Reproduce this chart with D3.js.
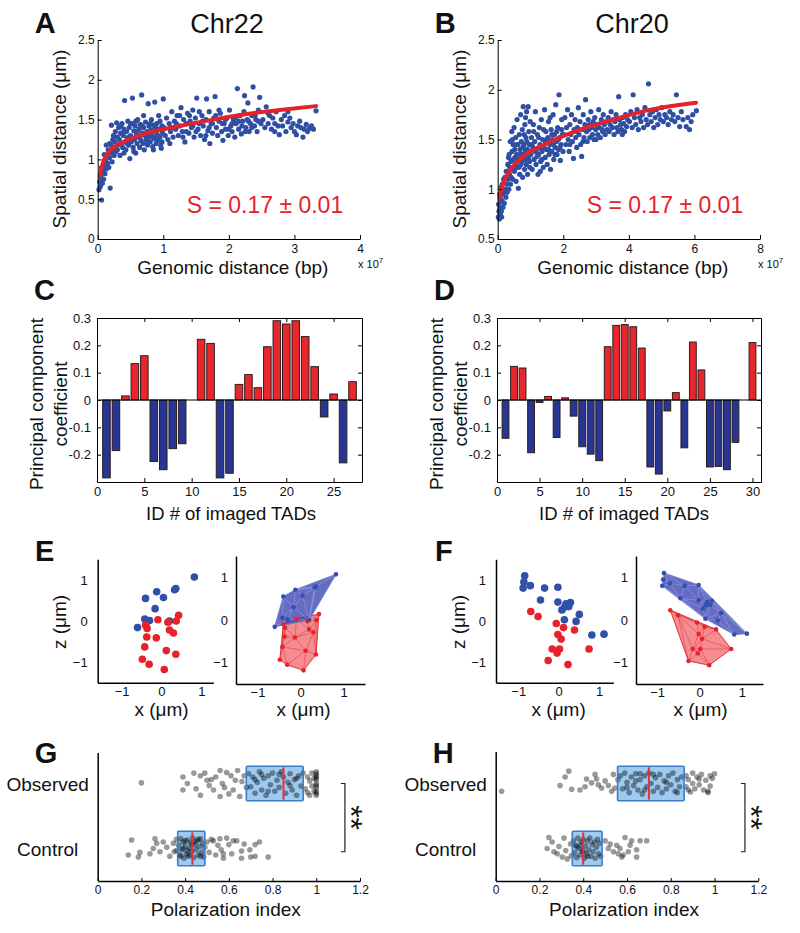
<!DOCTYPE html>
<html><head><meta charset="utf-8">
<script src="https://cdn.jsdelivr.net/npm/d3@7"></script>
<style>
body{margin:0;background:#fff}
svg{display:block}
</style></head><body>
<svg id="fig" width="800" height="933"></svg>
<script>
// ---------------- DATA ----------------
// Panel A: Chr22 spatial vs genomic distance (x in units of 1e7 bp, y in µm)
const chr22Scatter = [[0.02,0.62],[0.04,0.66],[0.06,0.49],[0.03,0.72],[0.05,0.78],[0.07,0.7],[0.08,0.85],[0.09,0.75],[0.1,0.92],[0.11,0.82],[0.12,0.98],[0.13,0.88],[0.14,1.05],[0.15,0.95],[0.16,1.12],[0.17,0.9],[0.18,1.02],[0.19,0.64],[0.2,1.18],[0.21,1.08],[0.22,0.97],[0.23,1.25],[0.24,1.13],[0.25,1.05],[0.1,1.06],[0.13,1.18],[0.06,0.9],[0.18,1.2],[0.21,1.43],[0.24,1.3],
[0.26,1.22],[0.27,1.35],[0.28,1.1],[0.29,1.46],[0.3,1.28],[0.31,1.18],[0.32,1.4],[0.33,1.25],[0.34,1.05],[0.35,1.33],[0.36,1.2],[0.37,1.45],[0.38,1.15],[0.39,1.3],[0.4,1.38],[0.41,1.74],[0.42,1.22],[0.43,1.12],[0.44,1.35],[0.45,1.27],[0.46,1.48],[0.47,1.18],[0.48,1.4],[0.49,1.01],[0.5,1.3],[0.51,1.22],[0.52,1.45],[0.53,1.77],[0.54,1.15],[0.55,1.36],[0.56,1.25],[0.57,1.42],[0.58,1.08],[0.59,1.32],[0.6,1.2],[0.61,1.5],[0.62,1.28],[0.63,1.38],[0.64,1.15],[0.65,1.44],[0.66,1.24],[0.67,1.81],[0.68,1.33],[0.69,1.2],[0.7,1.4],[0.71,1.12],[0.72,1.3],[0.73,1.47],[0.74,1.25],[0.75,1.35],[0.76,1.18],[0.77,1.7],[0.78,1.42],[0.79,1.28],[0.8,1.22],[0.81,1.37],[0.82,1.5],[0.83,1.3],[0.84,1.16],[0.85,1.43],[0.86,1.26],[0.87,1.72],[0.88,1.35],[0.89,1.2],[0.9,1.45],[0.91,1.31],[0.92,1.24],[0.93,1.55],[0.94,1.38],[0.95,1.28],[0.96,1.18],[0.97,1.14],[0.98,1.42],[0.99,1.33],[1.0,1.76],[0.3,1.12],[0.35,1.42],[0.4,1.08],[0.45,1.2],[0.5,1.45],[0.55,1.1],[0.6,1.35],[0.65,1.3],[0.7,1.55],[0.75,1.22],[0.8,1.45],[0.85,1.12],[0.9,1.28],[0.95,1.48],[0.38,1.32],[0.48,1.28],[0.58,1.48],[0.68,1.42],[0.78,1.32],[0.88,1.4],[0.98,1.22],
[1.01,1.4],[1.03,1.3],[1.05,1.52],[1.07,1.25],[1.09,1.45],[1.11,1.35],[1.13,1.6],[1.15,1.28],[1.17,1.48],[1.19,1.38],[1.21,1.55],[1.23,1.3],[1.25,1.42],[1.27,1.65],[1.29,1.35],[1.31,1.5],[1.33,1.22],[1.35,1.45],[1.37,1.58],[1.39,1.33],[1.41,1.48],[1.43,1.4],[1.45,1.62],[1.47,1.28],[1.49,1.52],[1.51,1.77],[1.53,1.38],[1.55,1.45],[1.57,1.3],[1.59,1.55],[1.61,1.42],[1.63,1.25],[1.65,1.5],[1.66,1.76],[1.68,1.36],[1.7,1.6],[1.71,1.2],[1.73,1.45],[1.75,1.33],[1.77,1.52],[1.79,1.79],[1.81,1.4],[1.83,1.3],[1.85,1.48],[1.87,1.58],[1.89,1.35],[1.91,1.24],[1.93,1.45],[1.95,1.38],[1.97,1.52],[1.99,1.3],[2.01,1.62],[2.03,1.42],[2.05,1.35],[2.07,1.5],[2.09,1.28],[2.11,1.45],[2.13,1.89],[2.15,1.38],[2.17,1.55],[2.19,1.32],[2.21,1.48],[2.23,1.6],[2.24,1.8],[2.26,1.4],[2.28,1.5],[2.29,1.71],[2.31,1.35],[2.33,1.45],[2.35,1.55],[2.37,1.91],[2.39,1.42],[2.41,1.5],[2.43,1.35],[2.45,1.62],[2.47,1.78],[2.49,1.45],[1.1,1.2],[1.2,1.45],[1.3,1.28],[1.4,1.55],[1.5,1.35],[1.6,1.48],[1.7,1.4],[1.8,1.55],[1.9,1.45],[2.0,1.38],[2.1,1.52],[2.2,1.42],[2.3,1.48],[2.4,1.55],[1.15,1.4],[1.25,1.55],[1.35,1.35],[1.45,1.42],[1.55,1.6],[1.65,1.3],[1.75,1.45],[1.85,1.62],[1.95,1.5],[2.05,1.45],[2.15,1.48],[2.25,1.35],[2.35,1.4],[2.45,1.48],
[2.52,1.5],[2.55,1.4],[2.57,1.66],[2.6,1.45],[2.62,1.55],[2.65,1.38],[2.67,1.52],[2.7,1.45],[2.72,1.6],[2.75,1.42],[2.77,1.31],[2.8,1.5],[2.82,1.42],[2.85,1.55],[2.87,1.35],[2.9,1.47],[2.93,1.52],[2.95,1.4],[2.98,1.45],[3.0,1.35],[3.03,1.31],[3.05,1.42],[3.08,1.48],[3.1,1.4],[3.13,1.28],[3.15,1.38],[3.18,1.44],[3.2,1.35],[3.23,1.39],[3.26,1.42],[3.29,1.38],[3.33,1.61],[2.6,1.58],[2.7,1.35],[2.9,1.6]];
const chr22Fit = [[0.03,0.79],[0.09,0.98],[0.19,1.11],[0.39,1.22],[0.75,1.33],[1.25,1.42],[1.76,1.5],[2.27,1.57],[2.78,1.62],[3.33,1.67]];

// Panel B: Chr20
const chr20Scatter = [[0.02,0.72],[0.03,0.85],[0.05,0.7],[0.06,0.95],[0.07,0.81],[0.08,0.75],[0.09,0.9],[0.1,1.02],[0.11,0.78],[0.12,0.72],[0.13,0.88],[0.14,1.05],[0.15,0.95],[0.16,0.82],[0.18,1.1],[0.19,0.98],[0.2,0.86],[0.22,1.12],[0.23,1.0],[0.25,0.92],[0.26,1.18],[0.28,1.05],[0.29,0.97],[0.04,0.78],[0.17,1.0],
[0.31,1.25],[0.32,1.1],[0.34,1.0],[0.35,1.35],[0.36,1.15],[0.38,1.48],[0.39,1.05],[0.4,1.28],[0.42,1.2],[0.43,1.58],[0.44,1.38],[0.46,1.1],[0.47,1.45],[0.48,1.3],[0.5,1.62],[0.51,1.18],[0.52,1.4],[0.54,1.25],[0.55,1.52],[0.56,1.08],[0.58,1.35],[0.59,1.7],[0.6,1.22],[0.62,1.45],[0.63,1.01],[0.64,1.3],[0.66,1.55],[0.67,1.15],[0.68,1.4],[0.7,1.75],[0.71,1.25],[0.72,1.48],[0.74,1.35],[0.75,1.6],[0.76,1.12],[0.78,1.83],[0.79,1.3],[0.8,1.45],[0.82,1.2],[0.83,1.65],[0.84,1.38],[0.86,1.52],[0.87,1.25],[0.88,1.78],[0.9,1.4],[0.91,1.15],[0.93,1.83],[0.94,1.32],[0.95,1.58],[0.96,1.45],[0.98,1.22],[0.99,1.68],[0.33,1.32],[0.37,1.22],[0.41,1.12],[0.45,1.5],[0.49,1.2],[0.53,1.32],[0.57,1.45],[0.61,1.3],[0.65,1.22],[0.69,1.35],[0.73,1.28],[0.77,1.42],[0.81,1.55],[0.85,1.3],[0.89,1.48],[0.92,1.38],[0.97,1.28],[0.85,1.72],
[1.01,1.35],[1.03,1.52],[1.05,1.2],[1.07,1.42],[1.09,1.65],[1.11,1.3],[1.13,1.48],[1.15,1.78],[1.17,1.25],[1.19,1.4],[1.21,1.55],[1.23,1.15],[1.25,1.35],[1.27,1.62],[1.29,1.45],[1.31,1.28],[1.33,1.7],[1.35,1.38],[1.37,1.5],[1.39,1.22],[1.41,1.42],[1.43,1.8],[1.45,1.32],[1.47,1.58],[1.49,1.4],[1.51,1.25],[1.53,1.52],[1.55,1.68],[1.57,1.35],[1.59,1.45],[1.61,1.2],[1.63,1.6],[1.65,1.38],[1.67,1.5],[1.69,1.75],[1.71,1.3],[1.73,1.55],[1.75,1.42],[1.77,1.85],[1.79,1.48],[1.81,1.35],[1.83,1.62],[1.85,1.4],[1.87,1.95],[1.89,1.52],[1.91,1.29],[1.93,1.45],[1.95,1.7],[1.97,1.55],[1.99,1.38],[1.05,1.45],[1.15,1.38],[1.25,1.52],[1.35,1.3],[1.45,1.48],[1.55,1.4],[1.65,1.55],[1.75,1.35],[1.85,1.5],[1.95,1.6],[1.1,1.58],[1.2,1.33],[1.3,1.42],[1.4,1.6],[1.5,1.5],[1.6,1.72],[1.7,1.45],[1.8,1.58],[1.9,1.42],[1.3,1.18],
[2.02,1.55],[2.05,1.72],[2.08,1.45],[2.1,1.62],[2.13,1.8],[2.15,1.5],[2.18,1.38],[2.2,1.65],[2.23,1.55],[2.25,1.75],[2.28,1.48],[2.31,1.31],[2.33,1.6],[2.36,1.7],[2.38,1.52],[2.41,1.42],[2.43,1.62],[2.46,1.82],[2.48,1.55],[2.51,1.68],[2.53,1.45],[2.56,1.33],[2.58,1.6],[2.61,1.75],[2.63,1.52],[2.66,1.65],[2.68,1.9],[2.71,1.58],[2.73,1.48],[2.76,1.7],[2.78,1.6],[2.81,1.52],[2.84,1.78],[2.86,1.62],[2.89,1.55],[2.91,1.68],[2.94,1.5],[2.96,1.72],[2.99,1.6],[3.02,1.65],[3.05,1.55],[3.08,1.8],[3.1,1.62],[3.13,1.52],[3.16,1.7],[3.19,1.6],[3.22,1.75],[3.25,1.65],[3.28,1.55],[3.31,1.68],[3.34,1.6],[3.37,1.72],[3.4,1.58],[3.43,1.65],[3.46,1.78],[3.49,1.62],[3.52,1.7],[3.55,1.55],[3.58,1.68],[3.61,1.75],[3.64,1.62],[3.67,1.58],[3.69,1.93],[3.72,1.7],[3.75,1.65],[3.78,1.6],[3.81,1.72],[3.84,1.66],[3.87,1.58],[3.9,1.75],[3.93,1.63],[3.96,1.7],[2.2,1.45],[2.4,1.58],[2.6,1.48],[2.8,1.65],[3.0,1.5],[3.2,1.58],[3.5,1.62],[3.8,1.55],
[4.02,1.68],[4.06,1.78],[4.1,1.62],[4.13,1.95],[4.17,1.72],[4.21,1.65],[4.25,1.8],[4.29,1.6],[4.33,1.72],[4.37,1.68],[4.41,1.75],[4.45,1.62],[4.49,1.82],[4.53,1.7],[4.57,1.65],[4.6,2.06],[4.64,1.75],[4.68,1.68],[4.72,1.78],[4.76,1.62],[4.8,1.72],[4.84,1.8],[4.88,1.65],[4.92,1.75],[4.96,1.7],[5.0,1.82],[5.05,1.68],[5.1,1.75],[5.15,1.72],[5.2,1.65],[5.25,1.78],[5.3,1.7],[5.35,1.75],[5.4,1.68],[5.45,1.95],[5.5,1.72],[5.55,1.63],[5.6,1.78],[5.65,1.7],[5.75,1.63],[5.8,1.72],[5.9,1.68],[5.95,1.75],[6.06,1.79],[5.85,1.6]];
const chr20Fit = [[0.05,0.91],[0.17,1.06],[0.38,1.19],[0.78,1.33],[1.49,1.46],[2.51,1.6],[3.52,1.7],[4.53,1.79],[6.05,1.87]];

const scalingLabel = "S = 0.17 \u00b1 0.01";

// Panels C / D: principal component coefficients per TAD
const chr22PC = [-0.285,-0.185,0.015,0.133,0.162,-0.225,-0.255,-0.178,-0.16,0,0.222,0.207,-0.285,-0.268,0.057,0.093,0.045,0.195,0.29,0.278,0.29,0.232,0.122,-0.062,0.022,-0.23,0.067];
const chr20PC = [-0.14,0.123,0.117,-0.193,-0.009,0.013,-0.137,0.008,-0.059,-0.171,-0.198,-0.222,0.195,0.273,0.276,0.268,0.19,-0.245,-0.271,-0.04,0.027,-0.175,0.212,0.11,-0.245,-0.243,-0.255,-0.155,0,0.21];

// Panels E / F: TAD positions (µm), two compartments
const eBlue = [[0.825,1.07],[0.33,0.76],[0.36,0.79],[-0.12,0.71],[-0.4,0.55],[0.05,0.57],[-0.16,0.3],[-0.42,0.05],[-0.3,0.01],[-0.6,-0.16],[0.2,0.0]];
const eRed = [[-0.09,0.03],[-0.4,-0.1],[-0.36,-0.18],[0.16,-0.03],[0.43,0.14],[0.37,0.0],[0.2,-0.22],[0.3,-0.29],[-0.37,-0.39],[-0.13,-0.41],[-0.42,-0.63],[0.12,-0.72],[0.36,-0.81],[-0.48,-0.93],[-0.31,-1.05],[0.07,-1.18]];
const fBlue = [[-0.84,1.1],[-0.86,0.95],[-0.88,0.8],[-0.7,0.86],[-0.35,0.8],[-0.02,0.82],[-0.45,0.51],[-0.02,0.46],[0.18,0.42],[0.29,0.45],[0.15,0.34],[0.08,0.27],[0.25,0.35],[0.51,0.16],[0.14,0.03],[0.43,-0.01],[0.82,-0.34],[1.12,-0.32]];
const fRed = [[-0.69,0.23],[-0.51,0.11],[-0.06,-0.06],[0.12,-0.16],[0.39,-0.22],[-0.02,-0.33],[0.06,-0.44],[-0.16,-0.68],[0.02,-0.68],[-0.04,-0.78],[0.75,-0.68],[-0.26,-0.96],[0.23,-1.06]];

// Panels G / H: polarization index, [value, vertical jitter]
const categories = ["Control","Observed"];
const gObserved = [[0.20,0.01],[0.39,0.1],[0.39,-0.1],[0.41,0.0],[0.44,0.16],[0.47,0.12],[0.49,0.16],[0.47,-0.18],[0.51,-0.03],[0.52,0.06],[0.53,-0.1],[0.54,0.1],[0.56,0.2],[0.56,-0.2],[0.57,0.0],[0.59,0.17],[0.61,0.12],[0.62,-0.1],[0.64,0.2],[0.65,-0.2],[0.66,0.03],[0.67,0.12],[0.68,-0.06],[0.45,-0.08],[0.5,0.05],[0.58,-0.06],[0.6,-0.16],[0.63,0.05],
[0.69,0.15],[0.7,-0.05],[0.71,0.1],[0.72,-0.15],[0.73,0.02],[0.74,0.18],[0.75,-0.1],[0.76,0.08],[0.77,-0.18],[0.78,0.12],[0.79,-0.02],[0.8,0.16],[0.81,-0.12],[0.82,0.05],[0.83,-0.06],[0.84,0.18],[0.85,0.1],[0.86,-0.15],[0.87,0.02],[0.88,0.15],[0.89,-0.1],[0.9,0.06],[0.91,-0.18],[0.92,0.12],[0.93,-0.04],[0.94,0.16],[0.72,0.06],[0.78,-0.12],[0.83,0.14],[0.88,-0.03],[0.91,0.08],[0.75,0.14],
[0.95,-0.08],[0.96,0.1],[0.97,-0.18],[0.97,0.04],[0.98,0.16],[0.99,-0.12],[1.0,0.18],[1.0,0.12],[1.0,0.06],[1.0,0.0],[1.0,-0.06],[1.0,-0.12],[1.0,-0.18],[1.0,0.15],[1.0,-0.03],[0.99,0.08],[0.98,-0.04],[1.0,-0.15],[0.96,-0.14],[1.0,0.09]];
const gControl = [[0.14,-0.1],[0.155,0.13],[0.186,-0.13],[0.193,-0.06],[0.239,-0.08],[0.254,0.0],[0.262,0.15],[0.27,0.08],[0.285,-0.05],[0.3,0.1],[0.316,0.02],[0.33,-0.12],[0.346,0.08],[0.35,-0.05],[0.36,0.14],
[0.37,0.05],[0.375,-0.1],[0.38,0.15],[0.385,-0.02],[0.39,0.1],[0.395,-0.15],[0.4,0.04],[0.405,-0.08],[0.41,0.13],[0.415,-0.12],[0.42,0.0],[0.425,0.09],[0.43,-0.05],[0.435,0.16],[0.44,-0.14],[0.445,0.06],[0.45,-0.02],[0.455,0.12],[0.46,-0.1],[0.465,0.03],[0.47,0.15],[0.475,-0.06],[0.48,0.08],[0.485,-0.13],[0.49,0.02],[0.38,-0.12],[0.4,0.12],[0.42,-0.1],[0.44,0.1],[0.46,0.14],[0.39,0.0],[0.43,0.06],[0.47,-0.12],[0.36,-0.03],[0.41,-0.03],
[0.5,0.1],[0.51,-0.06],[0.52,0.14],[0.529,0.12],[0.54,-0.1],[0.55,0.05],[0.559,0.15],[0.565,-0.02],[0.575,-0.08],[0.575,-0.15],[0.59,0.16],[0.6,0.06],[0.613,-0.08],[0.62,0.12],[0.636,0.12],[0.658,-0.04],[0.658,-0.15],[0.67,0.07],[0.696,-0.02],[0.72,0.06],[0.72,-0.12],[0.74,0.1],[0.78,-0.13],[0.7,-0.13]];
const hObserved = [[0.027,-0.12],[0.334,0.19],[0.317,0.1],[0.294,-0.03],[0.347,-0.09],[0.385,-0.1],[0.408,-0.05],[0.415,0.07],[0.438,0.01],[0.454,0.14],[0.461,0.07],[0.469,-0.02],[0.484,-0.07],[0.5,0.04],[0.515,-0.03],[0.53,-0.12],[0.538,0.14],[0.545,-0.07],[0.558,0.06],
[0.57,0.12],[0.58,-0.08],[0.59,0.16],[0.6,0.02],[0.61,-0.14],[0.62,0.1],[0.63,-0.03],[0.64,0.15],[0.65,-0.1],[0.66,0.06],[0.67,-0.16],[0.68,0.12],[0.69,-0.05],[0.7,0.16],[0.71,0.0],[0.72,-0.12],[0.73,0.09],[0.74,-0.06],[0.75,0.14],[0.76,-0.14],[0.77,0.04],[0.78,-0.08],[0.79,0.12],[0.8,-0.02],[0.81,0.16],[0.82,-0.12],[0.83,0.06],[0.84,-0.05],[0.85,0.1],[0.6,-0.06],[0.64,0.04],[0.68,-0.1],[0.72,0.14],[0.78,0.02],[0.83,-0.14],[0.66,0.15],
[0.87,0.12],[0.87,-0.05],[0.88,0.06],[0.89,-0.13],[0.9,0.16],[0.9,0.0],[0.91,-0.08],[0.92,0.1],[0.93,-0.02],[0.94,0.14],[0.95,-0.1],[0.96,0.05],[0.97,-0.14],[0.98,0.12],[0.98,-0.04],[0.99,0.08],[1.0,0.15],[0.97,-0.12],[0.88,-0.1],[0.93,0.07]];
const hControl = [[0.243,0.17],[0.235,0.0],[0.258,0.1],[0.266,-0.05],[0.281,-0.08],[0.289,0.03],[0.304,-0.13],[0.312,0.16],[0.32,-0.03],[0.327,-0.16],[0.342,0.07],[0.346,-0.11],
[0.355,0.12],[0.36,-0.06],[0.365,0.05],[0.37,-0.14],[0.375,0.16],[0.38,0.0],[0.385,-0.1],[0.39,0.1],[0.395,-0.03],[0.4,0.14],[0.405,-0.15],[0.41,0.04],[0.415,-0.08],[0.42,0.12],[0.425,-0.02],[0.43,0.16],[0.435,-0.12],[0.44,0.06],[0.445,-0.05],[0.45,0.1],[0.455,-0.15],[0.46,0.02],[0.465,0.14],[0.47,-0.08],[0.475,0.08],[0.48,-0.12],[0.39,0.05],[0.4,-0.05],[0.37,0.03],[0.42,-0.12],
[0.5,0.12],[0.515,0.0],[0.523,0.07],[0.538,-0.05],[0.553,0.05],[0.56,-0.08],[0.568,0.0],[0.576,-0.13],[0.591,0.17],[0.606,-0.05],[0.614,0.05],[0.621,0.12],[0.644,-0.02],[0.644,-0.13],[0.66,0.12],[0.69,0.12],[0.583,-0.1]];
// box stats [q1, median, q3]
const gObservedBox = [0.68,0.85,0.94];
const gControlBox = [0.366,0.433,0.49];
const hObservedBox = [0.557,0.70,0.861];
const hControlBox = [0.35,0.40,0.486];

// tick values
const aXTicks = [0,1,2,3,4], aYTicks = [0,0.5,1,1.5,2,2.5];
const bXTicks = [0,2,4,6,8], bYTicks = [0.5,1,1.5,2,2.5];
const cXTicks = [0,5,10,15,20,25], dXTicks = [0,5,10,15,20,25,30];
const pcYTicks = [-0.2,-0.1,0,0.1,0.2,0.3];
const posTicks = [-1,0,1];
const piTicks = [0,0.2,0.4,0.6,0.8,1,1.2];

// ---------------- DRAWING ----------------
const FONT = '"Liberation Sans", Arial, Helvetica, sans-serif';
const svg = d3.select("#fig").attr("font-family", FONT);
const fmt = d3.format("~g");
const fmtHyphen = d => fmt(d).replace("\u2212","-");

function text(x, y, s, o = {}) {
  const t = svg.append("text").attr("x", x).attr("y", y).text(s)
    .attr("font-size", o.size || 19).attr("fill", o.fill || "#111")
    .attr("text-anchor", o.anchor || "middle");
  if (o.weight) t.attr("font-weight", o.weight);
  if (o.rotate) t.attr("transform", `rotate(${o.rotate},${x},${y})`);
  if (o.baseline) t.attr("dominant-baseline", o.baseline);
  return t;
}
function styleAxis(g, fs) {
  g.attr("font-family", FONT).attr("font-size", fs);
  g.selectAll("path.domain").attr("stroke", "#000").attr("stroke-width", 1);
  g.selectAll(".tick line").attr("stroke", "#000");
  g.selectAll(".tick text").attr("fill", "#111");
}
function panelLetter(x, y, s) { text(x, y, s, {size: 29, weight: "bold", anchor: "start"}); }

// ---- A & B ----
function scatterPanel(c) {
  const x = d3.scaleLinear().domain(c.xDomain).range([c.left, c.right]);
  const y = d3.scaleLinear().domain(c.yDomain).range([c.bottom, c.top]);
  const g = svg.append("g");
  g.selectAll("circle").data(c.points).join("circle")
    .attr("cx", d => x(d[0])).attr("cy", d => y(d[1])).attr("r", 2.6).attr("fill", "#2f4fa4");
  g.append("path").datum(c.fit)
    .attr("d", d3.line().x(d => x(d[0])).y(d => y(d[1])).curve(d3.curveMonotoneX))
    .attr("fill", "none").attr("stroke", "#e4222a").attr("stroke-width", 4).attr("stroke-linecap", "round");
  const ax = g.append("g").attr("transform", `translate(0,${c.bottom})`)
    .call(d3.axisBottom(x).tickValues(c.xTicks).tickSize(-4).tickSizeOuter(0).tickPadding(5).tickFormat(fmt));
  styleAxis(ax, 12);
  const ay = g.append("g").attr("transform", `translate(${c.left},0)`)
    .call(d3.axisLeft(y).tickValues(c.yTicks).tickSize(-4).tickSizeOuter(0).tickPadding(3).tickFormat(fmt));
  styleAxis(ay, 12);
  text(c.titleX, 33, c.title, {size: 27});
  text(c.left - 32, 139, "Spatial distance (\u03bcm)", {rotate: -90});
  text((c.left + c.right) / 2 + 4, 273.5, "Genomic distance (bp)");
  const e = svg.append("text").attr("x", c.right - 2).attr("y", 268).attr("font-size", 11).attr("fill", "#111");
  e.append("tspan").text("x 10");
  e.append("tspan").attr("dy", -5).attr("font-size", 8).text("7");
  text(c.left + 89, 213.3, scalingLabel, {size: 23, fill: "#e4222a", anchor: "start"});
  panelLetter(c.left - 63, 33, c.letter);
}
scatterPanel({points: chr22Scatter, fit: chr22Fit, xDomain: [0, 4], yDomain: [0, 2.5], xTicks: aXTicks, yTicks: aYTicks,
  left: 97.7, right: 360, top: 40, bottom: 239, title: "Chr22", titleX: 227, letter: "A"});
scatterPanel({points: chr20Scatter, fit: chr20Fit, xDomain: [0, 8], yDomain: [0.5, 2.5], xTicks: bXTicks, yTicks: bYTicks,
  left: 497.7, right: 760, top: 40, bottom: 239, title: "Chr20", titleX: 632, letter: "B"});

// ---- C & D ----
function barPanel(c) {
  const n = c.values.length;
  const x = d3.scaleLinear().domain([0, n + 1]).range([c.left, c.right]);
  const y = d3.scaleLinear().domain([-0.3, 0.3]).range([482, 318]);
  const g = svg.append("g");
  const w = x(0.8) - x(0);
  g.selectAll("rect").data(c.values).join("rect")
    .attr("x", (d, i) => x(i + 1) - w / 2).attr("width", w)
    .attr("y", d => y(Math.max(0, d))).attr("height", d => Math.abs(y(d) - y(0)))
    .attr("fill", d => d >= 0 ? "#e8262b" : "#283593").attr("stroke", "#2a1f20").attr("stroke-width", 1)
    .attr("display", d => d === 0 ? "none" : null);
  g.append("line").attr("x1", c.left).attr("x2", c.right).attr("y1", y(0)).attr("y2", y(0)).attr("stroke", "#000");
  const ab = g.append("g").attr("transform", "translate(0,482)")
    .call(d3.axisBottom(x).tickValues(c.xTicks).tickSize(-4).tickSizeOuter(0).tickPadding(5).tickFormat(fmt));
  styleAxis(ab, 13);
  const at = g.append("g").attr("transform", "translate(0,318)")
    .call(d3.axisTop(x).tickValues(c.xTicks).tickSize(-4).tickSizeOuter(0).tickFormat(""));
  styleAxis(at, 13);
  const al = g.append("g").attr("transform", `translate(${c.left},0)`)
    .call(d3.axisLeft(y).tickValues(pcYTicks).tickSize(-4).tickSizeOuter(0).tickPadding(6).tickFormat(fmtHyphen));
  styleAxis(al, 13);
  const ar = g.append("g").attr("transform", `translate(${c.right},0)`)
    .call(d3.axisRight(y).tickValues(pcYTicks).tickSize(-4).tickSizeOuter(0).tickFormat(""));
  styleAxis(ar, 13);
  text(c.left - 54, 404, "Principal component", {rotate: -90});
  text(c.left - 30, 404, "coefficient", {rotate: -90});
  text(c.labelX, 520, "ID # of imaged TADs", {size: 18.5});
  panelLetter(c.left - 63, 300, c.letter);
}
barPanel({values: chr22PC, left: 97, right: 362, xTicks: cXTicks, letter: "C", labelX: 231});
barPanel({values: chr20PC, left: 497, right: 761, xTicks: dXTicks, letter: "D", labelX: 624});

// ---- E & F ----
function posAxes(c) {
  const x = d3.scaleLinear().domain(c.xDomain).range([c.left, c.right]);
  const y = d3.scaleLinear().domain([-1.5, 1.5]).range([c.bottom, c.top]);
  const ax = svg.append("g").attr("transform", `translate(0,${c.bottom})`)
    .call(d3.axisBottom(x).tickValues(posTicks).tickSize(0).tickPadding(4).tickFormat(fmt));
  styleAxis(ax, 13); ax.select("path.domain").attr("stroke-width", 1.5);
  const ay = svg.append("g").attr("transform", `translate(${c.left},0)`)
    .call(d3.axisLeft(y).tickValues(posTicks).tickSize(0).tickPadding(c.ypad).tickFormat(fmt));
  styleAxis(ay, 13); ay.select("path.domain").attr("stroke-width", 1.5);
  text((c.left + c.right) / 2 + c.xlabShift, 716, "x (\u03bcm)");
  return {x, y};
}
function dotPlot(c, blue, red) {
  const {x, y} = posAxes(c);
  svg.append("g").selectAll("circle").data(blue).join("circle")
    .attr("cx", d => x(d[0])).attr("cy", d => y(d[1])).attr("r", 3.8).attr("fill", "#3150a8");
  svg.append("g").selectAll("circle").data(red).join("circle")
    .attr("cx", d => x(d[0])).attr("cy", d => y(d[1])).attr("r", 3.8).attr("fill", "#e8222b");
}
function hullPlot(c, blue, red) {
  const {x, y} = posAxes(c);
  const groups = [
    {pts: red, fill: "rgba(240,80,85,0.65)", mesh: "rgba(215,35,45,0.75)", edge: "#e03a40", dot: "#e8222b"},
    {pts: blue, fill: "rgba(58,66,178,0.78)", mesh: "rgba(165,175,238,0.8)", edge: "#3f4eae", dot: "#3150a8"}
  ];
  groups.forEach(gr => {
    const p = gr.pts.map(d => [x(d[0]), y(d[1])]);
    const hull = d3.polygonHull(p);
    svg.append("path").attr("d", "M" + hull.join("L") + "Z").attr("fill", gr.fill).attr("stroke", gr.edge).attr("stroke-width", 0.8);
    svg.append("path").attr("d", d3.Delaunay.from(p).render()).attr("fill", "none").attr("stroke", gr.mesh).attr("stroke-width", 0.6);
  });
  groups.forEach(gr => {
    svg.append("g").selectAll("circle").data(gr.pts).join("circle")
      .attr("cx", d => x(d[0])).attr("cy", d => y(d[1])).attr("r", 2.3).attr("fill", gr.dot);
  });
}
dotPlot({xDomain: [-1.6, 1.3], left: 97.7, right: 213.3, top: 559.3, bottom: 682.7, ypad: 10, xlabShift: 6}, eBlue, eRed);
hullPlot({xDomain: [-1.5, 1.5], left: 236, right: 365, top: 556, bottom: 684, ypad: 8, xlabShift: 3}, eBlue, eRed);
dotPlot({xDomain: [-1.55, 1.35], left: 496, right: 613.3, top: 559.3, bottom: 682.7, ypad: 10, xlabShift: 4}, fBlue, fRed);
hullPlot({xDomain: [-1.5, 1.5], left: 636, right: 763, top: 556, bottom: 684, ypad: 8, xlabShift: 1}, fBlue, fRed);
text(66, 622, "z (\u03bcm)", {rotate: -90});
text(465, 622, "z (\u03bcm)", {rotate: -90});
panelLetter(35, 561, "E");
panelLetter(435, 561, "F");

// ---- G & H ----
function polPanel(c) {
  const x = d3.scaleLinear().domain([0, 1.2]).range([c.left, c.right]);
  const y = d3.scaleLinear().domain([0.5, 2.5]).range([881, 751]);
  const half = 0.265;
  const sets = [{cat: 2, pts: c.obs, box: c.obsBox}, {cat: 1, pts: c.ctl, box: c.ctlBox}];
  sets.forEach(s => {
    svg.append("rect").attr("x", x(s.box[0])).attr("width", x(s.box[2]) - x(s.box[0]))
      .attr("y", y(s.cat + half)).attr("height", y(s.cat - half) - y(s.cat + half))
      .attr("fill", "#9dcaf0");
  });
  sets.forEach(s => {
    svg.append("g").selectAll("circle").data(s.pts).join("circle")
      .attr("cx", d => x(d[0])).attr("cy", d => y(s.cat + d[1])).attr("r", 2.8).attr("fill", "rgba(0,0,0,0.4)");
  });
  sets.forEach(s => {
    svg.append("rect").attr("x", x(s.box[0])).attr("width", x(s.box[2]) - x(s.box[0]))
      .attr("y", y(s.cat + half)).attr("height", y(s.cat - half) - y(s.cat + half))
      .attr("fill", "none").attr("stroke", "#3b7bca").attr("stroke-width", 1.6).attr("rx", 1);
    svg.append("line").attr("x1", x(s.box[1])).attr("x2", x(s.box[1]))
      .attr("y1", y(s.cat + half) + 1).attr("y2", y(s.cat - half) - 1).attr("stroke", "#e0323c").attr("stroke-width", 2);
    text(c.left - 50, y(s.cat) + 7, categories[s.cat - 1], {size: 19});
  });
  const ax = svg.append("g").attr("transform", "translate(0,881)")
    .call(d3.axisBottom(x).tickValues(piTicks).tickSize(-3).tickSizeOuter(0).tickPadding(4).tickFormat(fmt));
  styleAxis(ax, 12); ax.select("path.domain").attr("stroke-width", 1.5);
  svg.append("line").attr("x1", c.left + 0.5).attr("x2", c.left + 0.5).attr("y1", c.axTop).attr("y2", 881)
    .attr("stroke", "#000").attr("stroke-width", 1.5);
  // significance bracket
  const bx = x(c.bracket);
  svg.append("path").attr("d", `M${bx - 4},${y(2)}H${bx}V${y(0.95)}H${bx - 4}`).attr("fill", "none").attr("stroke", "#222").attr("stroke-width", 1.2);
  text(bx - 5, (y(2) + y(0.95)) / 2, "**", {size: 32, rotate: 90, anchor: "middle"});
  text((c.left + c.right) / 2 - 3, 915.5, "Polarization index");
  panelLetter(c.left - 63, 763, c.letter);
}
polPanel({left: 97.7, right: 360, axTop: 753, obs: gObserved, ctl: gControl, obsBox: gObservedBox, ctlBox: gControlBox, bracket: 1.131, letter: "G"});
polPanel({left: 495.7, right: 758.3, axTop: 752, obs: hObserved, ctl: hControl, obsBox: hObservedBox, ctlBox: hControlBox, bracket: 1.139, letter: "H"});
</script>
</body></html>
